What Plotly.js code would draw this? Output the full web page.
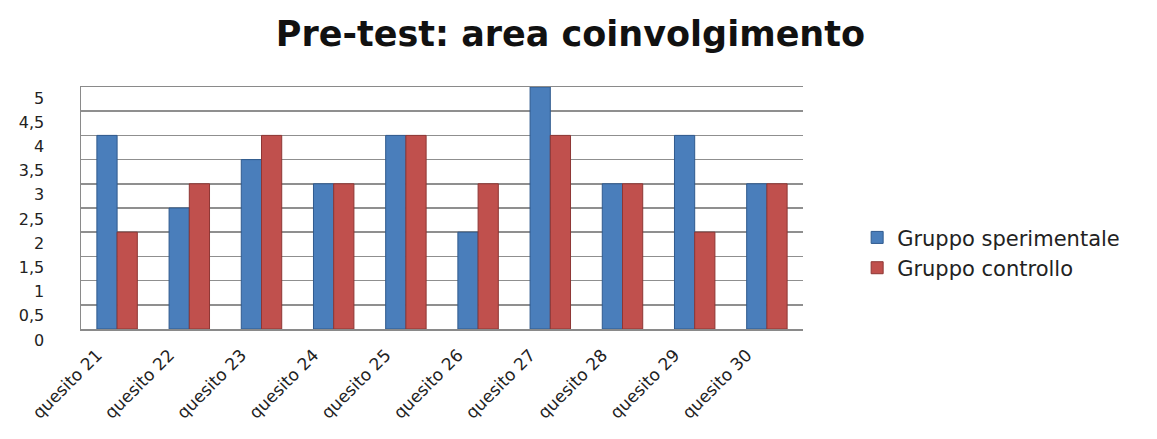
<!DOCTYPE html>
<html>
<head>
<meta charset="utf-8">
<script src="https://cdn.plot.ly/plotly-3.0.1.min.js"></script>
<style>html,body{margin:0;padding:0;background:#fff;}#chart{width:1157px;height:439px;}</style>
</head>
<body>
<div id="chart"></div>
<script>
const categories = ["quesito 21","quesito 22","quesito 23","quesito 24","quesito 25","quesito 26","quesito 27","quesito 28","quesito 29","quesito 30"];
const sperimentale = [4, 2.5, 3.5, 3, 4, 2, 5, 3, 4, 3];
const controllo = [2, 3, 4, 3, 4, 3, 4, 3, 2, 3];
const seriesNames = ["Gruppo sperimentale", "Gruppo controllo"];
const tickVals = [0, 0.5, 1, 1.5, 2, 2.5, 3, 3.5, 4, 4.5, 5];
const tickText = ["0","0,5","1","1,5","2","2,5","3","3,5","4","4,5","5"];

const font = "DejaVu Sans, Verdana, sans-serif";
const traces = [
  {type:"bar", name: seriesNames[0], x: categories, y: sperimentale,
   marker:{color:"#4A7EBB", line:{color:"#2F5A8E", width:1}}},
  {type:"bar", name: seriesNames[1], x: categories, y: controllo,
   marker:{color:"#C0504D", line:{color:"#8E3634", width:1}}}
];
const layout = {
  width:1157, height:439,
  paper_bgcolor:"#fff", plot_bgcolor:"#fff",
  margin:{l:81, r:354, t:87, b:110},
  barmode:"group", bargap:0.44, bargroupgap:0,
  title:{text:"<b>Pre-test: area coinvolgimento</b>", x:0.493, xanchor:"center", y:0.924, yanchor:"middle",
         font:{family:font, size:35, color:"#111"}},
  xaxis:{type:"category", tickangle:-45, tickfont:{family:font, size:17, color:"#222"},
         showline:true, linecolor:"#8a8a8a", linewidth:1.5, mirror:true, ticks:"", showgrid:false,
         ticklabelshift:-20, ticklabelstandoff:8},
  yaxis:{range:[0,5], tickvals:tickVals, ticktext:tickText, tickfont:{family:font, size:16, color:"#222"},
         showgrid:true, gridcolor:"#8f8f8f", gridwidth:1.5, zeroline:false,
         showline:true, linecolor:"#8a8a8a", linewidth:1.5, ticks:"", ticklabelshift:11, ticklabelstandoff:32},
  legend:{x:1.075, y:0.315, xanchor:"left", yanchor:"middle", font:{family:font, size:21, color:"#222"},
          tracegroupgap:18, itemwidth:30, bgcolor:"rgba(0,0,0,0)"},
  showlegend:true
};
Plotly.newPlot("chart", traces, layout, {displayModeBar:false, staticPlot:true});
</script>
</body>
</html>
